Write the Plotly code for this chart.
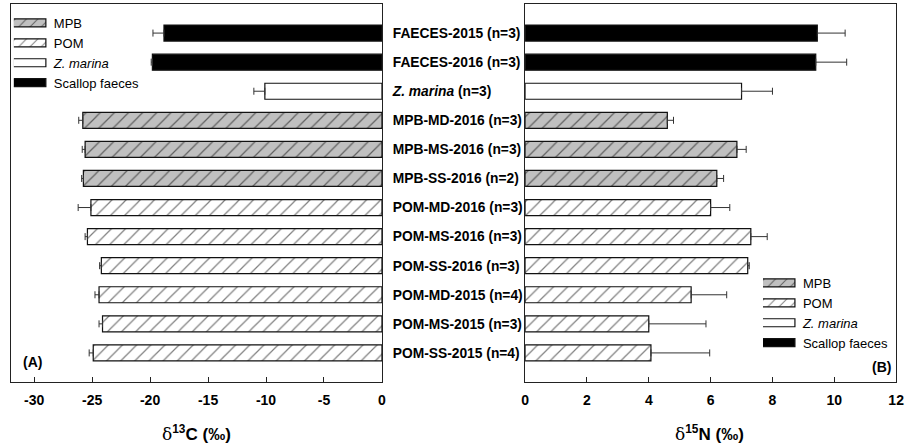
import plotly.graph_objects as go

# Sample labels, top to bottom
labels = [
    "FAECES-2015 (n=3)", "FAECES-2016 (n=3)", "Z. marina (n=3)",
    "MPB-MD-2016 (n=3)", "MPB-MS-2016 (n=3)", "MPB-SS-2016 (n=2)",
    "POM-MD-2016 (n=3)", "POM-MS-2016 (n=3)", "POM-SS-2016 (n=3)",
    "POM-MD-2015 (n=4)", "POM-MS-2015 (n=3)", "POM-SS-2015 (n=4)",
]
tick_text = [
    "FAECES-2015 (n=3)", "FAECES-2016 (n=3)", "<i>Z. marina</i> (n=3)",
    "MPB-MD-2016 (n=3)", "MPB-MS-2016 (n=3)", "MPB-SS-2016 (n=2)",
    "POM-MD-2016 (n=3)", "POM-MS-2016 (n=3)", "POM-SS-2016 (n=3)",
    "POM-MD-2015 (n=4)", "POM-MS-2015 (n=3)", "POM-SS-2015 (n=4)",
]
source = [
    "Scallop faeces", "Scallop faeces", "Z. marina",
    "MPB", "MPB", "MPB",
    "POM", "POM", "POM", "POM", "POM", "POM",
]

# Mean and SD of stable isotope ratios (per mil)
d13c = [-18.8, -19.8, -10.1, -25.8, -25.6, -25.75, -25.1, -25.4, -24.2, -24.4, -24.1, -24.9]
d13c_sd = [0.95, 0.1, 0.95, 0.35, 0.25, 0.15, 1.1, 0.2, 0.15, 0.35, 0.3, 0.35]
d15n = [9.45, 9.4, 7.0, 4.6, 6.85, 6.2, 6.0, 7.3, 7.2, 5.37, 4.0, 4.07]
d15n_sd = [0.9, 1.0, 1.0, 0.2, 0.3, 0.22, 0.62, 0.53, 0.05, 1.15, 1.85, 1.9]

# Axis ticks
c_ticks = [-30, -25, -20, -15, -10, -5, 0]
n_ticks = [0, 2, 4, 6, 8, 10, 12]

groups = ["MPB", "POM", "Z. marina", "Scallop faeces"]
group_names = {"MPB": "MPB", "POM": "POM", "Z. marina": "<i>Z. marina</i>",
               "Scallop faeces": "Scallop faeces"}
styles = {
    "MPB": dict(color="#c0c0c0", pattern=dict(shape="/", fgcolor="#000", bgcolor="#c0c0c0",
                                               size=10, solidity=0.12, fillmode="overlay")),
    "POM": dict(color="#ffffff", pattern=dict(shape="/", fgcolor="#000", bgcolor="#ffffff",
                                               size=10, solidity=0.12, fillmode="overlay")),
    "Z. marina": dict(color="#ffffff"),
    "Scallop faeces": dict(color="#000000"),
}

FONT = "Liberation Sans, Arial, sans-serif"
W, H = 916, 445

fig = go.Figure()

for panel, (vals, sds, xa, ya, leg) in enumerate([
    (d13c, d13c_sd, "x", "y", "legend"),
    (d15n, d15n_sd, "x2", "y2", "legend2"),
]):
    for g in groups:
        idx = [i for i, s in enumerate(source) if s == g]
        xs = [vals[i] for i in idx]
        es = [sds[i] for i in idx]
        zeros = [0] * len(idx)
        if panel == 0:
            err = dict(type="data", symmetric=False, array=zeros, arrayminus=es,
                       color="#333", thickness=1, width=3.5)
        else:
            err = dict(type="data", symmetric=False, array=es, arrayminus=zeros,
                       color="#333", thickness=1, width=3.5)
        st = styles[g]
        marker = dict(color=st["color"], line=dict(color="#111", width=1.2))
        if "pattern" in st:
            marker["pattern"] = st["pattern"]
        fig.add_trace(go.Bar(
            x=xs, y=[labels[i] for i in idx], orientation="h",
            name=group_names[g], marker=marker, error_x=err,
            width=0.55, xaxis=xa, yaxis=ya, legend=leg,
        ))


def px_x(p):
    return p / W


def px_y(p):
    return 1 - p / H


axis_common = dict(showline=True, linecolor="#222", linewidth=1, mirror=True,
                   showgrid=False, zeroline=False)
xtick_common = dict(ticks="inside", ticklen=5, tickcolor="#222", ticklabelstandoff=5,
                    tickfont=dict(size=14, weight="bold"))
cat_order = labels[::-1]

fig.update_layout(
    width=W, height=H, margin=dict(l=0, r=0, t=0, b=0),
    paper_bgcolor="white", plot_bgcolor="white",
    barmode="overlay", showlegend=True,
    font=dict(family=FONT, color="#000"),
    xaxis=dict(domain=[px_x(7), px_x(383)], range=[-32, 0],
               tickvals=c_ticks, ticktext=[str(v) for v in c_ticks],
               **xtick_common, **axis_common),
    yaxis=dict(domain=[px_y(382), px_y(4)], anchor="x", side="right",
               categoryorder="array", categoryarray=cat_order, range=[-1, 12],
               tickvals=labels, ticktext=tick_text, ticks="",
               ticklabelstandoff=7,
               tickfont=dict(size=13.8, weight="bold"), **axis_common),
    xaxis2=dict(domain=[px_x(528), px_x(904)], range=[0, 12], anchor="y2",
                tickvals=n_ticks, ticktext=[str(v) for v in n_ticks],
                **xtick_common, **axis_common),
    yaxis2=dict(domain=[px_y(382), px_y(4)], anchor="x2",
                categoryorder="array", categoryarray=cat_order, range=[-1, 12],
                showticklabels=False, ticks="", **axis_common),
    legend=dict(x=px_x(10), y=px_y(8), xanchor="left", yanchor="top",
                bgcolor="rgba(0,0,0,0)", font=dict(size=13),
                traceorder="normal", itemclick=False),
    legend2=dict(x=px_x(769), y=px_y(268), xanchor="left", yanchor="top",
                 bgcolor="rgba(0,0,0,0)", font=dict(size=13),
                 traceorder="normal", itemclick=False),
)

delta = "<span style='font-family:\"DejaVu Serif\",serif;font-weight:normal'>δ</span>"
fig.add_annotation(x=px_x(195), y=px_y(433), xref="paper", yref="paper",
                   text=delta + "<sup><b>13</b></sup><b>C (‰)</b>", showarrow=False,
                   font=dict(size=17), xanchor="center", yanchor="middle")
fig.add_annotation(x=px_x(715), y=px_y(433), xref="paper", yref="paper",
                   text=delta + "<sup><b>15</b></sup><b>N (‰)</b>", showarrow=False,
                   font=dict(size=17), xanchor="center", yanchor="middle")
fig.add_annotation(x=px_x(29), y=px_y(362), xref="paper", yref="paper",
                   text="<b>(A)</b>", showarrow=False, font=dict(size=14),
                   xanchor="center", yanchor="middle")
fig.add_annotation(x=px_x(889), y=px_y(367), xref="paper", yref="paper",
                   text="<b>(B)</b>", showarrow=False, font=dict(size=14),
                   xanchor="center", yanchor="middle")

# Widen the legend swatches into flat bars
post = """
document.querySelectorAll('g.legendpoints path').forEach(function(p){
  if (p.getAttribute('d') === 'M6,6H-6V-6H6Z') { p.setAttribute('d', 'M-21,4H12V-4H-21Z'); }
});
"""

fig.write_html("out.html", post_script=post)
